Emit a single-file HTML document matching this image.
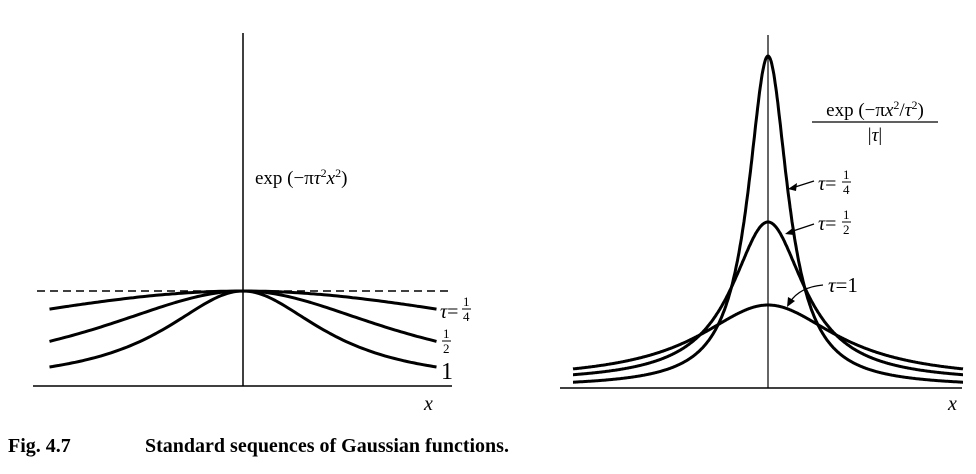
<!DOCTYPE html>
<html><head><meta charset="utf-8"><style>
html,body{margin:0;padding:0;background:#fff;}
svg{display:block;font-family:"Liberation Serif",serif;}
</style></head><body>
<svg width="976" height="474" viewBox="0 0 976 474">
<g id="left">
  <line x1="33" y1="386" x2="452" y2="386" stroke="#000" stroke-width="1.5"/>
  <line x1="243" y1="33" x2="243" y2="386" stroke="#000" stroke-width="1.5"/>
  <line x1="37" y1="291" x2="452" y2="291" stroke="#000" stroke-width="1.5" stroke-dasharray="8,5"/>
  <text x="255" y="184" font-size="19">exp (−π<tspan font-style="italic">τ</tspan><tspan font-size="12" dy="-7">2</tspan><tspan dy="7" font-style="italic">x</tspan><tspan font-size="12" dy="-7">2</tspan><tspan dy="7">)</tspan></text>
  <text x="424" y="410" font-size="20" font-style="italic">x</text>
  <text x="440" y="318" font-size="20"><tspan font-style="italic">τ</tspan>=</text>
  <text x="463" y="306" font-size="13">1</text>
  <line x1="462" y1="309" x2="471" y2="309" stroke="#000" stroke-width="1"/>
  <text x="463" y="321" font-size="13">4</text>
  <text x="443" y="338" font-size="13">1</text>
  <line x1="442" y1="341" x2="451" y2="341" stroke="#000" stroke-width="1"/>
  <text x="443" y="353" font-size="13">2</text>
  <text x="441" y="379" font-size="24">1</text>
</g>
<g id="right">
  <line x1="560" y1="388" x2="962" y2="388" stroke="#000" stroke-width="1.5"/>
  <line x1="768" y1="35" x2="768" y2="388" stroke="#000" stroke-width="1.2"/>
  <text x="948" y="410" font-size="20" font-style="italic">x</text>
  <text x="875" y="116" font-size="19" text-anchor="middle">exp (−π<tspan font-style="italic">x</tspan><tspan font-size="12" dy="-7">2</tspan><tspan dy="7">/</tspan><tspan font-style="italic">τ</tspan><tspan font-size="12" dy="-7">2</tspan><tspan dy="7">)</tspan></text>
  <line x1="812" y1="122" x2="938" y2="122" stroke="#000" stroke-width="1.3"/>
  <text x="875" y="141" font-size="19" text-anchor="middle">|<tspan font-style="italic">τ</tspan>|</text>
  <text x="818" y="190" font-size="20"><tspan font-style="italic">τ</tspan>=</text>
  <text x="843" y="179" font-size="13">1</text><line x1="842" y1="182" x2="851" y2="182" stroke="#000"/><text x="843" y="194" font-size="13">4</text>
  <path d="M814,181 L792,188" stroke="#000" stroke-width="1.3" fill="none"/><path d="M788,189 L797,183 L796,191Z" fill="#000"/>
  <text x="818" y="230" font-size="20"><tspan font-style="italic">τ</tspan>=</text>
  <text x="843" y="219" font-size="13">1</text><line x1="842" y1="222" x2="851" y2="222" stroke="#000"/><text x="843" y="234" font-size="13">2</text>
  <path d="M814,224 L790,232" stroke="#000" stroke-width="1.3" fill="none"/><path d="M785,234 L794,227 L794,235Z" fill="#000"/>
  <text x="828" y="292" font-size="21"><tspan font-style="italic">τ</tspan>=1</text>
  <path d="M823,285 Q800,287 790,302" stroke="#000" stroke-width="1.3" fill="none"/><path d="M787,307 L788,297 L795,301Z" fill="#000"/>
</g>
<text x="8" y="452" font-size="20" font-weight="bold">Fig. 4.7</text>
<text x="145" y="452" font-size="20" font-weight="bold">Standard sequences of Gaussian functions.</text>
</svg>
<script>
// Left panel data: value at x-extent for each tau (value 1 at center)
const leftTaus = ["1/4","1/2","1"];
const leftEndValues = [0.81, 0.47, 0.2];
// Right panel data
const rightTaus = ["1/4","1/2","1"];
const rightPeaks = [4, 2, 1];
const rightHalfWidths = [0.37, 0.68, 1.3];
const rightTails = [0.07, 0.16, 0.23];

const NS = "http://www.w3.org/2000/svg";
const xL = v => 243 + v * 64.5;
const yL = v => 386 - v * 95;
const xR = v => 768 + v * 65;
const yR = v => 388 - v * 83;

function path(pts, name, parent) {
  const p = document.createElementNS(NS, "path");
  p.setAttribute("d", "M" + pts.map(q => q[0].toFixed(1) + "," + q[1].toFixed(1)).join(" L"));
  p.setAttribute("fill", "none");
  p.setAttribute("stroke", "#000");
  p.setAttribute("stroke-width", "3");
  p.setAttribute("stroke-linejoin", "round");
  
  
  document.getElementById(parent).appendChild(p);
}

leftEndValues.forEach((e, i) => {
  const X = 3;
  const b = (1 / e - 1) / (X * X);
  const pts = [];
  for (let k = -60; k <= 60; k++) {
    const x = k / 20;
    pts.push([xL(x), yL(1 / (1 + b * x * x))]);
  }
  path(pts, "left-curve-tau-" + leftTaus[i].replace("/", "-"), "left");
});

rightPeaks.forEach((pk, i) => {
  const w = rightHalfWidths[i], t = rightTails[i];
  const L = x => 1 / (1 + (x / w) * (x / w));
  const L3 = L(3);
  const pts = [];
  for (let k = -300; k <= 300; k++) {
    const x = k / 100;
    pts.push([xR(x), yR(t + (pk - t) * (L(x) - L3) / (1 - L3))]);
  }
  path(pts, "right-curve-tau-" + rightTaus[i].replace("/", "-"), "right");
});
</script>
</body></html>
